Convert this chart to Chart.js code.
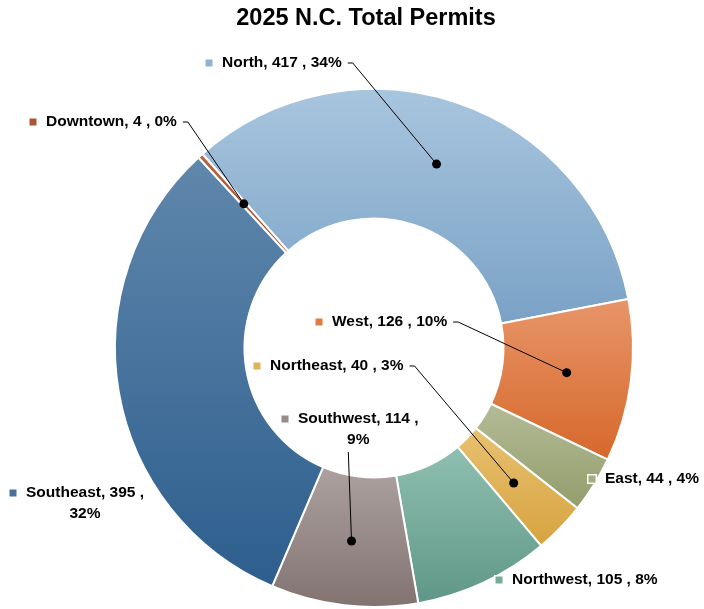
<!DOCTYPE html>
<html>
<head>
<meta charset="utf-8">
<script src="https://cdn.jsdelivr.net/npm/chart.js@4"></script>
<style>
  html, body { margin: 0; padding: 0; background: #ffffff; }
  canvas { display: block; }
</style>
</head>
<body>
<canvas id="c" width="704" height="609"></canvas>
<script>
// ---- data ----
const chartTitle = '2025 N.C. Total Permits';
const categories = ['North', 'West', 'East', 'Northeast', 'Northwest', 'Southwest', 'Southeast', 'Downtown'];
const permits = [417, 126, 44, 40, 105, 114, 395, 4];
const percentLabels = ['34%', '10%', '4%', '3%', '8%', '9%', '32%', '0%'];

// ---- styles ----
const topColors    = ['#a8c5de', '#e8956a', '#b4bb96', '#e8c070', '#8fbfb0', '#aca19f', '#6087ac', '#b8643c'];
const bottomColors = ['#7aa2c6', '#d6682a', '#939d6c', '#d6a440', '#5f9787', '#827371', '#2d5e8d', '#a24a22'];
const keyColors    = ['#8fb3d4', '#e07b43', '#a4ac80', '#deb456', '#76ab9b', '#978b89', '#46719c', '#ad5630'];
const ROTATION = -41.5;
const CUTOUT = 0.5;

// label placement (text left x, first-line middle y, leader style)
const labelLayout = [
  { x: 222, y: 63,  leader: 'right' },
  { x: 332, y: 322, leader: 'right' },
  { x: 605, y: 479, leader: 'none', keyBorder: true },
  { x: 270, y: 366, leader: 'right' },
  { x: 512, y: 580, leader: 'none', keyBorder: true },
  { x: 298, y: 419, leader: 'bottom', wrap: true },
  { x: 26,  y: 493, leader: 'none', wrap: true },
  { x: 46,  y: 122, leader: 'right' }
];

const total = permits.reduce((a, b) => a + b, 0);

function sliceGradient(ctx) {
  const i = ctx.dataIndex;
  const chart = ctx.chart;
  const area = chart.chartArea;
  if (!area || i === undefined) return topColors[i || 0];
  const cx = (area.left + area.right) / 2;
  const cy = (area.top + area.bottom) / 2;
  const R = (Math.min(area.width, area.height) - 2) / 2;
  const r = R * CUTOUT;
  let before = 0;
  for (let k = 0; k < i; k++) before += permits[k];
  const rot = ROTATION * Math.PI / 180 - Math.PI / 2;
  const a0 = rot + before / total * Math.PI * 2;
  const a1 = rot + (before + permits[i]) / total * Math.PI * 2;
  let minY = Infinity, maxY = -Infinity;
  for (let s = 0; s <= 60; s++) {
    const a = a0 + (a1 - a0) * s / 60;
    for (const rad of [r, R]) {
      const y = cy + rad * Math.sin(a);
      if (y < minY) minY = y;
      if (y > maxY) maxY = y;
    }
  }
  if (maxY - minY < 1) maxY = minY + 1;
  const g = chart.ctx.createLinearGradient(0, minY, 0, maxY);
  g.addColorStop(0, topColors[i]);
  g.addColorStop(1, bottomColors[i]);
  return g;
}

const FONT = 'bold 15.5px "Liberation Sans", Arial, sans-serif';

const labelPlugin = {
  id: 'sliceLabels',
  afterDatasetsDraw(chart) {
    const ctx = chart.ctx;
    const meta = chart.getDatasetMeta(0);
    ctx.save();
    // title
    ctx.fillStyle = '#000000';
    ctx.font = 'bold 23.5px "Liberation Sans", Arial, sans-serif';
    ctx.textAlign = 'center';
    ctx.textBaseline = 'middle';
    ctx.fillText(chartTitle, 366, 19);

    ctx.font = FONT;
    ctx.textAlign = 'left';
    const dots = [];
    labelLayout.forEach((lay, i) => {
      const lines = lay.wrap
        ? [categories[i] + ', ' + permits[i] + ' ,', percentLabels[i]]
        : [categories[i] + ', ' + permits[i] + ' , ' + percentLabels[i]];
      const w0 = ctx.measureText(lines[0]).width;
      // key square
      const kx = lay.x - 13, ky = lay.y;
      if (lay.keyBorder) {
        ctx.fillStyle = '#ffffff';
        ctx.fillRect(kx - 5, ky - 5, 10, 10);
      }
      ctx.fillStyle = keyColors[i];
      ctx.fillRect(kx - 3.5, ky - 3.5, 7, 7);
      // text
      ctx.fillStyle = '#000000';
      ctx.textAlign = 'left';
      ctx.fillText(lines[0], lay.x, lay.y);
      if (lines[1]) {
        ctx.textAlign = 'center';
        ctx.fillText(lines[1], lay.x + w0 / 2, lay.y + 21);
        ctx.textAlign = 'left';
      }
      // leader
      const arc = meta.data[i];
      if (lay.leader !== 'none' && arc) {
        const p = arc.getCenterPoint();
        ctx.strokeStyle = '#000000';
        ctx.lineWidth = 1;
        ctx.beginPath();
        if (lay.leader === 'right') {
          const sx = lay.x + w0 + 6;
          ctx.moveTo(sx, lay.y);
          ctx.lineTo(sx + 5, lay.y);
        } else {
          const sx = lay.x + w0 / 2 - 10;
          ctx.moveTo(sx, lay.y + 33);
        }
        ctx.lineTo(p.x, p.y);
        ctx.stroke();
        dots.push(p);
      }
    });
    ctx.fillStyle = '#000000';
    dots.forEach(p => {
      ctx.beginPath();
      ctx.arc(p.x, p.y, 4.5, 0, Math.PI * 2);
      ctx.fill();
    });
    ctx.restore();
  }
};

new Chart(document.getElementById('c'), {
  type: 'doughnut',
  data: {
    labels: categories,
    datasets: [{
      data: permits,
      backgroundColor: sliceGradient,
      borderColor: '#ffffff',
      borderWidth: 2
    }]
  },
  options: {
    responsive: false,
    animation: false,
    rotation: ROTATION,
    cutout: (CUTOUT * 100) + '%',
    layout: { padding: { top: 88, bottom: 1, left: 44, right: 0 } },
    plugins: {
      legend: { display: false },
      tooltip: { enabled: false },
      title: { display: false }
    }
  },
  plugins: [labelPlugin]
});
</script>
</body>
</html>
